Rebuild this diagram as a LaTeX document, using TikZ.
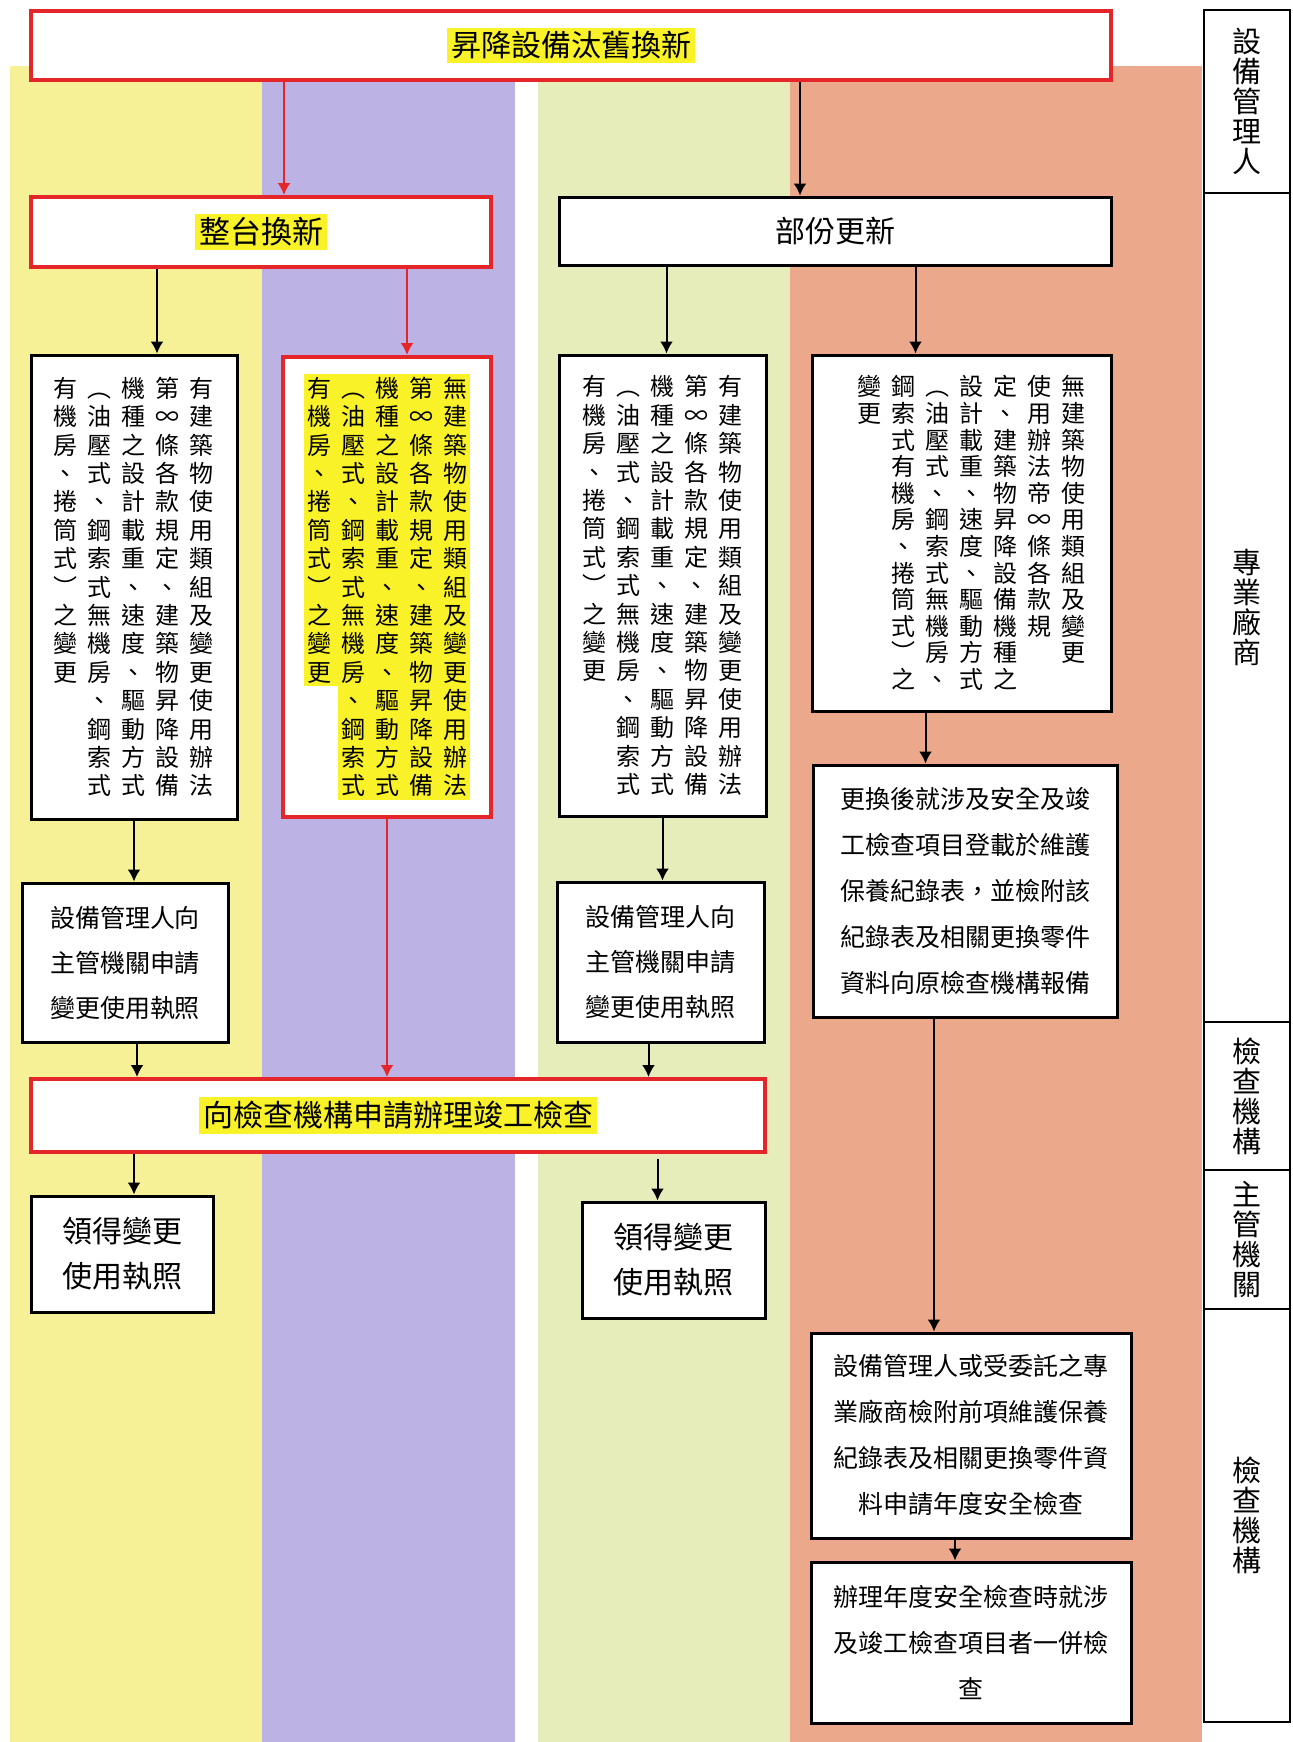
\documentclass[tikz,border=0pt]{standalone}
\usepackage{fontspec}
\setmainfont{Noto Sans CJK TC}
\usetikzlibrary{arrows.meta}

\definecolor{boxred}{RGB}{228,38,42}
\definecolor{hilite}{RGB}{250,242,40}
\definecolor{bandyellow}{RGB}{246,240,150}
\definecolor{bandpurple}{RGB}{188,179,228}
\definecolor{bandgreen}{RGB}{230,236,186}
\definecolor{bandsalmon}{RGB}{236,168,138}

\makeatletter
% one column of characters, read top to bottom
\newcommand\vcol[2][14.2pt]{\vtop{\baselineskip=#1\lineskiplimit=-5pt\lineskip=0pt
  \@tfor\vc@ch:=#2\do{\hbox to 1em{\hss\vc@ch\hss}}}}
\makeatother
\newcommand\vgap{\hskip5pt}
\newcommand\hilitebox[1]{{\fboxsep=2pt\colorbox{hilite}{#1}}}

\begin{document}
\begin{tikzpicture}[x=0.5pt, y=-0.5pt,
          box/.style={draw=black, line width=1.5pt, fill=white, inner sep=0pt},
          red box/.style={box, draw=boxred, line width=2pt},
          lane/.style={draw=black, line width=1pt, fill=white, inner sep=0pt, minimum width=43pt,
                       font=\fontsize{14.5}{15}\selectfont},
          vtext/.style={font=\fontsize{12}{14}\selectfont},
          htext/.style={align=center, font=\fontsize{12.5}{23}\selectfont},
          arr/.style={-{Latex[length=6pt,width=6.5pt]}, line width=1pt},
          red arr/.style={arr, draw=boxred}]

  \useasboundingbox (0,0) rectangle (1293,1742);
  \fill[white] (0,0) rectangle (1293,1742);

  % colour bands
  \fill[bandyellow] (10,66) rectangle (262,1742);
  \fill[bandpurple] (262,66) rectangle (515,1742);
  \fill[bandgreen]  (538,66) rectangle (790,1742);
  \fill[bandsalmon] (790,66) rectangle (1202,1742);

  % right-hand column
  \node[lane, minimum height=91.5pt]  (who1) at (1247,101.5) {\vcol[15pt]{設備管理人}};
  \node[lane, minimum height=414.5pt] (who2) at (1247,607.5) {\vcol[15pt]{專業廠商}};
  \node[lane, minimum height=74pt]    (who3) at (1247,1096)  {\vcol[15pt]{檢查機構}};
  \node[lane, minimum height=69.5pt]  (who4) at (1247,1239.5){\vcol[15pt]{主管機關}};
  \node[lane, minimum height=206.5pt] (who5) at (1247,1515.5){\vcol[15pt]{檢查機構}};

  \node[red box, minimum width=540pt, minimum height=34.5pt, font=\fontsize{15}{18}\selectfont]
    (top) at (571,45.5) {\hilitebox{昇降設備汰舊換新}};
  \node[red box, minimum width=230pt, minimum height=35pt, font=\fontsize{15.5}{18}\selectfont]
    (whole) at (261,232) {\hilitebox{整台換新}};
  \node[box, minimum width=276pt, minimum height=34pt, font=\fontsize{15}{18}\selectfont]
    (part) at (835,231) {部份更新};

  \node[box, vtext, minimum width=103pt, minimum height=232pt] (A) at (134,587)
    {\vcol{有機房、捲筒式︶之變更}\vgap\vcol{︵油壓式、鋼索式無機房、鋼索式}\vgap\vcol{機種之設計載重、速度、驅動方式}\vgap\vcol{第∞條各款規定、建築物昇降設備}\vgap\vcol{有建築物使用類組及變更使用辦法}};
  \node[red box, vtext, minimum width=104pt, minimum height=230pt] (B) at (387,587)
    {{\fboxsep=1.5pt\colorbox{hilite}{\vcol{有機房、捲筒式︶之變更}\hskip2pt}\colorbox{hilite}{\vcol{︵油壓式、鋼索式無機房、鋼索式}\vgap\vcol{機種之設計載重、速度、驅動方式}\vgap\vcol{第∞條各款規定、建築物昇降設備}\vgap\vcol{無建築物使用類組及變更使用辦法}}}};
  \node[box, vtext, minimum width=103.5pt, minimum height=230.5pt] (C) at (662.5,585.5)
    {\vcol{有機房、捲筒式︶之變更}\vgap\vcol{︵油壓式、鋼索式無機房、鋼索式}\vgap\vcol{機種之設計載重、速度、驅動方式}\vgap\vcol{第∞條各款規定、建築物昇降設備}\vgap\vcol{有建築物使用類組及變更使用辦法}};
  \node[box, vtext, minimum width=149.5pt, minimum height=178pt] (D) at (961.5,533)
    {\hspace*{10pt}\vcol[13.3pt]{變更}\vgap\vcol[13.3pt]{鋼索式有機房、捲筒式︶之}\vgap\vcol[13.3pt]{︵油壓式、鋼索式無機房、}\vgap\vcol[13.3pt]{設計載重、速度、驅動方式}\vgap\vcol[13.3pt]{定、建築物昇降設備機種之}\vgap\vcol[13.3pt]{使用辦法帝∞條各款規}\vgap\vcol[13.3pt]{無建築物使用類組及變更}};

  \node[box, htext, minimum width=152pt, minimum height=126pt] (E) at (965,891)
    {更換後就涉及安全及竣\\工檢查項目登載於維護\\保養紀錄表，並檢附該\\紀錄表及相關更換零件\\資料向原檢查機構報備};
  \node[box, htext, font=\fontsize{12.5}{22.5}\selectfont, minimum width=103pt, minimum height=79.5pt] (F) at (125,962.5)
    {設備管理人向\\主管機關申請\\變更使用執照};
  \node[box, htext, font=\fontsize{12.5}{22.5}\selectfont, minimum width=103.5pt, minimum height=80pt] (G) at (660.5,962)
    {設備管理人向\\主管機關申請\\變更使用執照};
  \node[red box, minimum width=367pt, minimum height=36.5pt, font=\fontsize{15}{18}\selectfont]
    (H) at (398,1115.5) {\hilitebox{向檢查機構申請辦理竣工檢查}};
  \node[box, htext, font=\fontsize{15}{22.5}\selectfont, minimum width=91pt, minimum height=58pt] (J) at (122,1254)
    {領得變更\\使用執照};
  \node[box, htext, font=\fontsize{15}{22.5}\selectfont, minimum width=91.5pt, minimum height=58pt] (K) at (673.5,1260)
    {領得變更\\使用執照};
  \node[box, htext, minimum width=160pt, minimum height=102.5pt] (L) at (971,1435.5)
    {設備管理人或受委託之專\\業廠商檢附前項維護保養\\紀錄表及相關更換零件資\\料申請年度安全檢查};
  \node[box, htext, minimum width=160pt, minimum height=80.5pt] (M) at (971,1642.5)
    {辦理年度安全檢查時就涉\\及竣工檢查項目者一併檢\\查};

  \draw[red arr] ([xshift=11.5pt]whole.north |- top.south) -- ([xshift=11.5pt]whole.north);
  \draw[arr] ([xshift=-17.5pt]part.north |- top.south) -- ([xshift=-17.5pt]part.north);
  \draw[arr] ([xshift=11.5pt]A.north |- whole.south) -- ([xshift=11.5pt]A.north);
  \draw[red arr] ([xshift=10pt]B.north |- whole.south) -- ([xshift=10pt]B.north);
  \draw[arr] ([xshift=2pt]C.north |- part.south) -- ([xshift=2pt]C.north);
  \draw[arr] ([xshift=-23pt]D.north |- part.south) -- ([xshift=-23pt]D.north);
  \draw[arr] (A.south) -- (A.south |- F.north);
  \draw[arr] (C.south) -- (C.south |- G.north);
  \draw[arr] ([xshift=-18pt]D.south) -- ([xshift=-18pt]D.south |- E.north);
  \draw[red arr] (B.south) -- (B.south |- H.north);
  \draw[arr] ([xshift=6pt]F.south) -- ([xshift=6pt]F.south |- H.north);
  \draw[arr] ([xshift=-6pt]G.south) -- ([xshift=-6pt]G.south |- H.north);
  \draw[arr] ([xshift=6pt]J.north |- H.south) -- ([xshift=6pt]J.north);
  \draw[arr, shorten <=2.5pt] ([xshift=-8pt]K.north |- H.south) -- ([xshift=-8pt]K.north);
  \draw[arr] ([xshift=-15.5pt]E.south) -- ([xshift=-15.5pt]E.south |- L.north);
  \draw[arr] ([xshift=-8pt]L.south) -- ([xshift=-8pt]L.south |- M.north);
\end{tikzpicture}
\end{document}
